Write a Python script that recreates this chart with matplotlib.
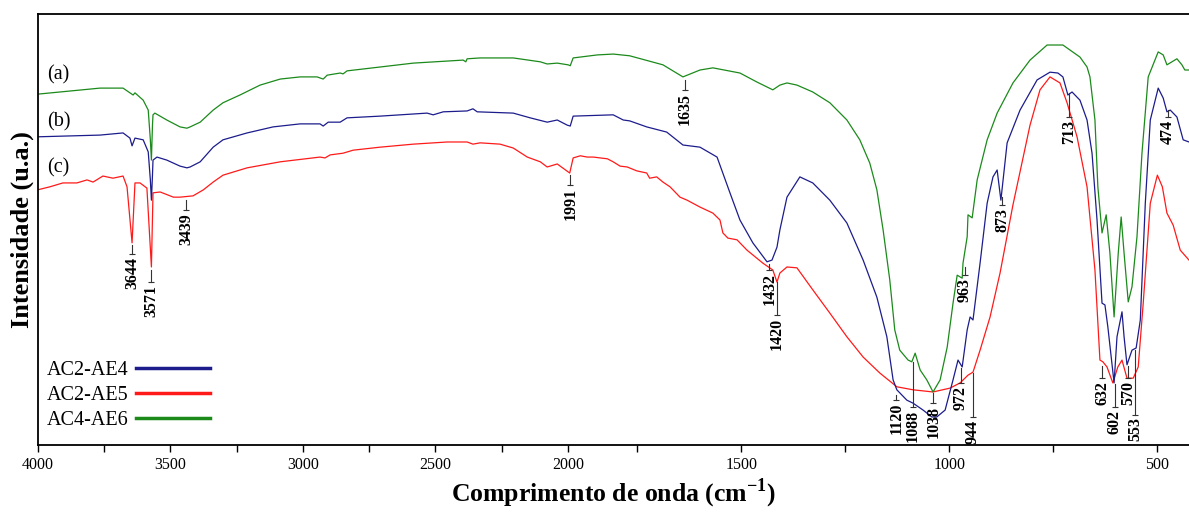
import numpy as np
import matplotlib
matplotlib.use('Agg')
import matplotlib.pyplot as plt
from matplotlib.lines import Line2D
from matplotlib.ticker import MultipleLocator

plt.rcParams['font.family'] = 'Liberation Serif'
plt.rcParams['mathtext.fontset'] = 'custom'
plt.rcParams['mathtext.rm'] = 'Liberation Serif'
plt.rcParams['mathtext.bf'] = 'Liberation Serif:bold'

# ------------------------------------------------------------------
#  FTIR spectra (wavenumber in cm-1, intensity in a.u.)
# ------------------------------------------------------------------

# (a) AC4-AE6 - green
wn_a = [4000, 3765, 3678, 3652, 3640, 3633, 3602, 3583, 3575, 3571, 3567, 3565,
        3558, 3513, 3463, 3437, 3425, 3387, 3338, 3301, 3237, 3161, 3085, 3010,
        2946, 2923, 2908, 2859, 2848, 2833, 2708, 2583, 2395, 2385, 2380, 2331,
        2206, 2104, 2078, 2040, 1999, 1991, 1980, 1889, 1829, 1768, 1688, 1640,
        1599, 1568, 1503, 1462, 1424, 1407, 1390, 1366, 1328, 1287, 1246, 1215,
        1191, 1174, 1159, 1143, 1131, 1119, 1099, 1090, 1082, 1070, 1054, 1039,
        1022, 1005, 991, 981, 969, 967, 957, 955, 945, 933, 909, 885, 847, 806,
        765, 727, 686, 669, 662, 650, 643, 633, 623, 614, 604, 594, 587, 580,
        570, 561, 549, 537, 522, 498, 486, 477, 465, 453, 441, 434, 424]
int_a = [81.4, 82.8, 82.8, 81.7, 81.2, 81.7, 80.0, 77.7, 70.8, 66.1, 74.2, 76.6,
         77.0, 75.4, 73.8, 73.5, 73.8, 74.9, 77.7, 79.4, 81.2, 83.5, 84.9, 85.4,
         85.4, 84.9, 85.8, 86.3, 86.1, 86.8, 87.7, 88.6, 89.3, 88.9, 89.6, 89.8,
         89.8, 88.9, 88.4, 88.6, 88.2, 88.0, 89.8, 90.5, 90.7, 90.3, 88.2, 85.4,
         87.0, 87.5, 86.3, 84.2, 82.4, 83.5, 84.0, 83.5, 81.9, 79.4, 75.4, 70.8,
         65.4, 59.2, 49.9, 38.3, 26.7, 22.0, 19.7, 19.3, 21.3, 17.4, 15.1, 12.3,
         15.1, 22.7, 32.9, 39.4, 38.7, 42.2, 48.3, 53.4, 52.7, 61.5, 70.8, 77.0,
         84.0, 89.3, 92.8, 92.8, 90.0, 87.7, 85.4, 75.4, 59.9, 49.2, 53.4, 44.5,
         29.7, 44.5, 52.9, 44.5, 33.2, 36.7, 48.3, 67.7, 85.4, 91.2, 90.5, 88.2,
         88.9, 89.6, 88.2, 87.0, 87.0]

# (b) AC2-AE4 - blue
wn_b = [4000, 3765, 3678, 3652, 3644, 3633, 3602, 3583, 3575, 3571, 3567, 3565,
        3550, 3513, 3463, 3437, 3425, 3387, 3338, 3301, 3210, 3112, 3010, 2935,
        2923, 2904, 2859, 2833, 2708, 2531, 2508, 2470, 2380, 2358, 2342, 2206,
        2142, 2078, 2040, 2002, 1991, 1980, 1829, 1791, 1768, 1727, 1679, 1640,
        1599, 1558, 1527, 1503, 1472, 1438, 1426, 1414, 1407, 1390, 1359, 1328,
        1287, 1246, 1207, 1174, 1150, 1135, 1126, 1102, 1087, 1063, 1042, 1030,
        1010, 991, 979, 969, 957, 950, 943, 926, 909, 895, 885, 876, 861, 830,
        789, 758, 739, 727, 715, 705, 686, 669, 657, 645, 633, 626, 619, 604,
        597, 585, 580, 573, 561, 551, 541, 529, 517, 498, 486, 477, 469, 453,
        438, 424]
int_b = [71.5, 71.9, 72.4, 71.2, 69.4, 71.2, 70.8, 68.0, 61.5, 56.8, 62.6, 66.1,
         66.8, 66.1, 64.7, 64.3, 64.5, 65.7, 69.1, 70.8, 72.4, 73.8, 74.5, 74.5,
         74.0, 74.9, 74.9, 75.9, 76.3, 77.0, 76.6, 77.3, 77.5, 78.0, 77.3, 77.0,
         75.9, 74.9, 75.4, 74.2, 74.0, 76.3, 76.6, 75.4, 75.2, 73.8, 72.6, 69.6,
         69.1, 66.8, 58.5, 52.2, 46.9, 42.5, 42.9, 45.9, 49.9, 57.5, 62.2, 60.8,
         56.8, 51.5, 42.9, 34.3, 25.1, 15.1, 12.8, 10.4, 9.7, 8.1, 6.5, 6.5,
         8.1, 15.1, 19.7, 18.1, 26.7, 29.7, 29.0, 42.2, 56.1, 62.2, 63.8, 56.8,
         70.1, 77.7, 84.7, 86.5, 86.3, 85.4, 81.2, 81.9, 80.0, 75.4, 67.7, 52.2,
         32.9, 32.5, 27.4, 14.4, 25.1, 30.9, 25.1, 18.6, 22.0, 22.5, 29.0, 56.1,
         75.4, 82.8, 80.5, 77.3, 77.7, 76.1, 70.8, 70.3]

# (c) AC2-AE5 - red
wn_c = [4000, 3954, 3905, 3852, 3814, 3791, 3754, 3716, 3678, 3663, 3644, 3633,
        3614, 3588, 3571, 3565, 3538, 3488, 3463, 3414, 3375, 3338, 3301, 3210,
        3085, 2935, 2916, 2897, 2848, 2810, 2708, 2583, 2455, 2380, 2358, 2331,
        2256, 2206, 2153, 2104, 2078, 2040, 1993, 1980, 1953, 1927, 1904, 1878,
        1851, 1829, 1803, 1776, 1751, 1727, 1720, 1703, 1688, 1671, 1647, 1630,
        1599, 1568, 1551, 1544, 1532, 1510, 1486, 1448, 1424, 1414, 1407, 1390,
        1366, 1328, 1287, 1246, 1207, 1167, 1126, 1087, 1039, 998, 974, 955,
        943, 926, 902, 878, 847, 806, 782, 758, 734, 717, 693, 669, 650, 638,
        631, 621, 607, 595, 585, 573, 558, 546, 534, 517, 500, 488, 477, 462,
        445, 424]
int_c = [59.2, 59.9, 60.8, 60.8, 61.5, 61.0, 62.4, 61.9, 62.4, 59.9, 46.9, 60.8,
         60.8, 59.6, 41.3, 58.5, 58.7, 57.5, 57.5, 57.8, 59.2, 61.0, 62.6, 64.3,
         65.7, 66.8, 66.6, 67.3, 67.7, 68.4, 69.1, 69.8, 70.3, 70.3, 69.8, 70.1,
         69.8, 68.9, 66.8, 65.7, 64.5, 65.2, 63.1, 66.6, 67.1, 66.8, 66.8, 66.6,
         66.4, 65.7, 64.7, 64.5, 63.6, 63.1, 61.9, 62.2, 61.0, 59.9, 57.5, 56.8,
         55.2, 53.8, 52.2, 49.2, 48.0, 47.6, 45.2, 42.2, 40.6, 37.8, 39.9, 41.3,
         41.1, 36.0, 30.6, 25.1, 20.4, 16.7, 13.5, 12.8, 12.3, 13.2, 14.4, 16.2,
         16.9, 22.0, 29.7, 39.9, 55.7, 74.2, 82.4, 85.4, 84.0, 79.4, 71.5, 59.9,
         40.6, 19.7, 19.3, 18.1, 14.4, 18.1, 19.7, 15.5, 15.5, 18.1, 32.9, 56.1,
         62.6, 59.9, 53.8, 51.0, 45.2, 42.9]

# band assignments: label, x position, line top, line bottom (a.u.)
peak_labels = ['3644', '3571', '3439', '1991', '1635', '1432', '1420', '1120',
               '1088', '1038', '972', '944', '963', '873', '713', '474', '632',
               '602', '570', '553']
peak_pos = [3644, 3571, 3439, 1991, 1635, 1432, 1414, 1127,
            1088, 1038, 972, 944, 963, 873, 713, 474, 632,
            602, 570, 553]
peak_top = [46.4, 40.6, 56.8, 62.6, 84.7, 42.0, 37.8, 11.6, 19.3, 12.1, 17.9,
            16.7, 41.3, 57.5, 81.7, 77.7, 18.3, 14.2, 18.3, 22.0]
peak_bottom = [44.3, 37.8, 54.5, 60.3, 82.4, 40.6, 30.2, 10.4, 8.8, 9.7, 14.4,
               6.5, 39.4, 55.7, 76.1, 76.1, 15.5, 8.8, 15.5, 7.0]

curve_tags = ['(a)', '(b)', '(c)']
tag_levels = [85.8, 74.9, 64.3]

legend_names = ['AC2-AE4', 'AC2-AE5', 'AC4-AE6']

GREEN = '#1b8a1b'
BLUE = '#1c1c8c'
RED = '#ff1a1a'

# axis is stretched below ~1770 cm-1 (as in the original plot)
SCALE_BREAK = 1770
STRETCH = 1.57


def fwd(w):
    w = np.asarray(w, dtype=float)
    return np.where(w >= SCALE_BREAK, w, SCALE_BREAK - (SCALE_BREAK - w) * STRETCH)


def inv(p):
    p = np.asarray(p, dtype=float)
    return np.where(p >= SCALE_BREAK, p, SCALE_BREAK - (SCALE_BREAK - p) / STRETCH)


fig = plt.figure(figsize=(11.89, 5.12), dpi=100)
ax = fig.add_axes([0.0317, 0.1309, 0.9683, 0.8418])
ax.set_xscale('function', functions=(fwd, inv))

ax.plot(wn_c, int_c, color=RED, lw=0.9)
ax.plot(wn_b, int_b, color=BLUE, lw=0.9)
ax.plot(wn_a, int_a, color=GREEN, lw=0.9)

for lab, w, y0, y1 in zip(peak_labels, peak_pos, peak_top, peak_bottom):
    ax.plot([w, w], [y0, y1], color='#333333', lw=0.8)
    ax.plot([w], [y1], marker='_', ms=5, mew=0.8, color='#333333')
    ax.annotate(lab, (w, y1), xytext=(0, -2), textcoords='offset points',
                rotation=90, ha='center', va='top', fontsize=11.5, fontweight='bold')

for tag, lev in zip(curve_tags, tag_levels):
    ax.text(3965, lev, tag, fontsize=14.5, ha='left', va='center')

handles = [Line2D([], [], color=c, lw=2.5) for c in (BLUE, RED, GREEN)]
ax.legend(handles, legend_names, loc='lower left', bbox_to_anchor=(0.008, 0.035),
          markerfirst=False, frameon=False, fontsize=14.5, handlelength=3.7,
          handletextpad=0.35, labelspacing=0.3, borderpad=0, borderaxespad=0)

ax.set_xlim(4000, 424)
ax.set_ylim(0, 100)
ax.xaxis.set_major_locator(MultipleLocator(500))
ax.xaxis.set_minor_locator(MultipleLocator(250))
ax.tick_params(axis='x', which='both', direction='out', top=False, bottom=True,
               length=5, width=1, labelsize=11.5, pad=4)
ax.tick_params(axis='y', left=False, labelleft=False)
ax.spines['right'].set_visible(False)
for s in ('left', 'top', 'bottom'):
    ax.spines[s].set_linewidth(1.3)

ax.set_xlabel('Comprimento de onda (cm$^{\\mathbf{-1}}$)', fontsize=18.5,
              fontweight='bold', labelpad=2)
ax.set_ylabel('Intensidade (u.a.)', fontsize=19, fontweight='bold')
ax.yaxis.set_label_coords(-0.003, 0.5)

fig.savefig('out.png', dpi=100)
